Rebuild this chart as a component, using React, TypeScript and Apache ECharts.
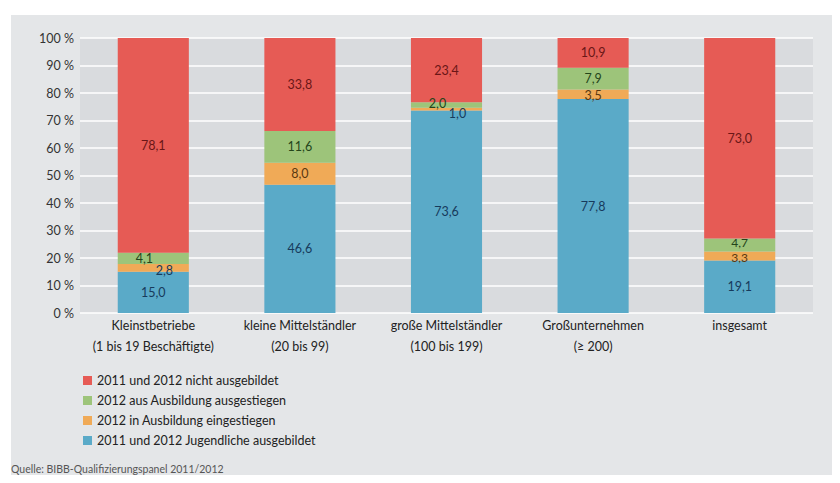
import React, { useEffect, useRef } from "react";
import * as echarts from "echarts";

const categories = [
  "Kleinstbetriebe\n(1 bis 19 Beschäftigte)",
  "kleine Mittelständler\n(20 bis 99)",
  "große Mittelständler\n(100 bis 199)",
  "Großunternehmen\n(≥ 200)",
  "insgesamt",
];
const seriesNames = [
  "2011 und 2012 Jugendliche ausgebildet",
  "2012 in Ausbildung eingestiegen",
  "2012 aus Ausbildung ausgestiegen",
  "2011 und 2012 nicht ausgebildet",
];
const blueValues = [15.0, 46.6, 73.6, 77.8, 19.1];
const orangeValues = [2.8, 8.0, 1.0, 3.5, 3.3];
const greenValues = [4.1, 11.6, 2.0, 7.9, 4.7];
const redValues = [78.1, 33.8, 23.4, 10.9, 73.0];
const yTicks = [0, 10, 20, 30, 40, 50, 60, 70, 80, 90, 100];
const source = "Quelle: BIBB-Qualifizierungspanel 2011/2012";

const FONT = "Lato, 'Noto Sans', sans-serif";
const colors = ["#5aaac8", "#f0aa57", "#9dc47a", "#e65b55"];
const labelColors = ["#173a5c", "#5a3810", "#24451a", "#6a1616"];
// special label placement for tiny segments (series index -> category index -> offset/colour)
const labelTweaks: Record<number, Record<number, { offset: number[]; color?: string; fontSize?: number }>> = {
  1: {
    0: { offset: [11, 3], color: "#173a5c" },
    2: { offset: [11, 4], color: "#173a5c" },
    3: { offset: [0, 1] },
    4: { offset: [0, 1.5], fontSize: 12 },
  },
  2: {
    0: { offset: [-9, 0] },
    2: { offset: [-9, -2] },
    4: { offset: [0, -2], fontSize: 12 },
  },
};

export default function App() {
  const ref = useRef<HTMLDivElement>(null);
  useEffect(() => {
    if (!ref.current) return;
    const chart = echarts.init(ref.current, null, { renderer: "svg" });
    const valueSets = [blueValues, orangeValues, greenValues, redValues];
    const series = valueSets.map((vals, si) => ({
      name: seriesNames[si],
      type: "bar",
      stack: "total",
      barWidth: "48.5%",
      itemStyle: { color: colors[si] },
      label: {
        show: true,
        position: "inside",
        formatter: (p: any) => p.value.toFixed(1).replace(".", ","),
        color: labelColors[si],
        fontSize: 12.5,
        fontFamily: FONT,
      },
      data: vals.map((v, ci) => {
        const t = labelTweaks[si] && labelTweaks[si][ci];
        if (!t) return v;
        return {
          value: v,
          label: {
            offset: t.offset,
            ...(t.color ? { color: t.color } : {}),
            ...(t.fontSize ? { fontSize: t.fontSize } : {}),
          },
        };
      }),
    }));
    chart.setOption({
      animation: false,
      textStyle: { fontFamily: FONT },
      graphic: [
        {
          type: "rect",
          z: -10,
          silent: true,
          shape: { x: 11, y: 15, width: 829, height: 468 },
          style: { fill: "#e4e6e8" },
        },
        {
          type: "text",
          left: 11,
          top: 463,
          style: { text: source, fontSize: 10.5, fill: "#555", fontFamily: FONT },
        },
      ],
      grid: {
        left: 80,
        right: 27,
        top: 38,
        bottom: 170,
        show: true,
        backgroundColor: "#d9dbde",
        borderWidth: 0,
      },
      legend: {
        orient: "vertical",
        left: 78,
        top: 369,
        itemWidth: 9,
        itemHeight: 9,
        itemGap: 7,
        icon: "rect",
        data: [seriesNames[3], seriesNames[2], seriesNames[1], seriesNames[0]],
        textStyle: { fontSize: 12.5, color: "#222", fontFamily: FONT },
      },
      xAxis: {
        type: "category",
        data: categories,
        axisLine: { show: false },
        axisTick: { show: false },
        axisLabel: {
          interval: 0,
          color: "#222",
          fontSize: 12.5,
          lineHeight: 21,
          margin: 2,
          fontFamily: FONT,
        },
      },
      yAxis: {
        type: "value",
        min: yTicks[0],
        max: yTicks[yTicks.length - 1],
        interval: 10,
        axisLine: { show: false },
        axisTick: { show: false },
        axisLabel: {
          formatter: "{value} %",
          color: "#333",
          fontSize: 12.5,
          margin: 6,
          fontFamily: FONT,
        },
        splitLine: { lineStyle: { color: "#ffffff", width: 1.5 } },
      },
      series,
    });
    return () => chart.dispose();
  }, []);
  return <div ref={ref} style={{ width: 840, height: 483, margin: -8 }} />;
}
